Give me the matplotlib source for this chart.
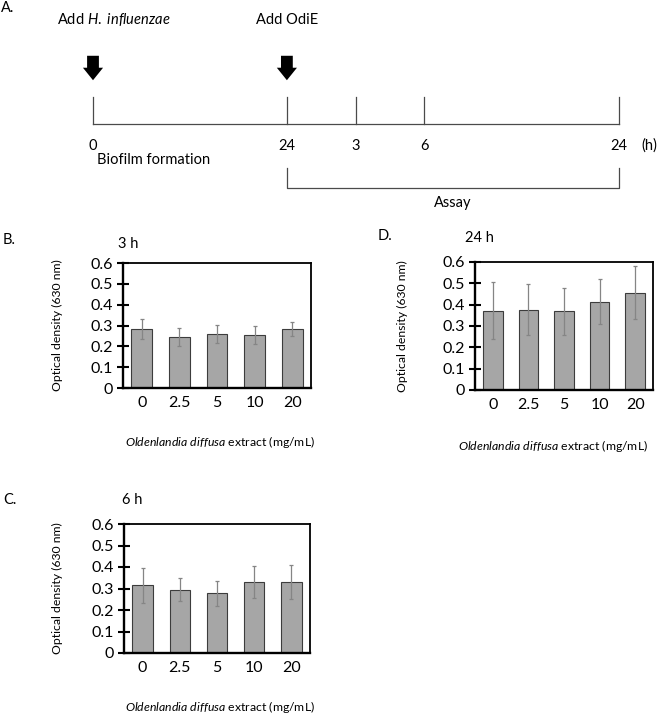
import matplotlib
matplotlib.use("Agg")
import matplotlib.pyplot as plt
from matplotlib.patches import FancyArrowPatch

plt.rcParams['font.family'] = ['Lato', 'DejaVu Sans']
plt.rcParams['mathtext.fontset'] = 'custom'
plt.rcParams['mathtext.rm'] = 'Lato'
plt.rcParams['mathtext.it'] = 'Lato:italic'

# ---------------- data ----------------
concentrations = ["0", "2.5", "5", "10", "20"]

od_3h = [0.285, 0.243, 0.261, 0.254, 0.283]
err_3h = [0.048, 0.043, 0.043, 0.044, 0.035]

od_6h = [0.314, 0.294, 0.277, 0.331, 0.331]
err_6h = [0.083, 0.053, 0.058, 0.073, 0.078]

od_24h = [0.372, 0.377, 0.369, 0.414, 0.456]
err_24h = [0.133, 0.119, 0.110, 0.104, 0.124]

yticks = [0, 0.1, 0.2, 0.3, 0.4, 0.5, 0.6]

# timeline schematic
timeline_labels = ["0", "24", "3", "6", "24"]
timeline_pos = [0, 2.81, 3.81, 4.80, 7.62]   # schematic (non-proportional) positions

W, H = 660, 715
fig = plt.figure(figsize=(W / 100, H / 100), dpi=100)

FS = 10.5      # general text
FS_AX = 8.8    # axis titles


def px(x, y):
    return x / W, 1 - y / H


def rect(l, r, t, b):
    return [l / W, 1 - b / H, (r - l) / W, (b - t) / H]


# ---------------- panel A: timeline ----------------
unit = 69.0
axA = fig.add_axes([0, 1 - 230 / H, 1, 230 / H])
axA.set_xlim(-93 / unit, (W - 93) / unit)
axA.set_ylim(230, 0)
axA.axis('off')

lc = '#4a4a4a'
axA.plot([timeline_pos[0], timeline_pos[-1]], [124, 124], color=lc, lw=0.9)
for p in timeline_pos:
    axA.plot([p, p], [97, 124], color=lc, lw=0.9)
for p, lab in zip(timeline_pos, timeline_labels):
    axA.text(p, 146, lab, ha='center', va='center', fontsize=FS)
axA.text(timeline_pos[-1] + 0.33, 146, "(h)", ha='left', va='center', fontsize=FS)

# assay bracket
axA.plot([timeline_pos[1], timeline_pos[1], timeline_pos[-1], timeline_pos[-1]],
         [168, 188, 188, 168], color=lc, lw=0.9)
axA.text((timeline_pos[1] + timeline_pos[-1]) / 2, 203, "Assay", ha='center', va='center', fontsize=FS)
axA.text(timeline_pos[0] + 0.06, 160, "Biofilm formation", ha='left', va='center', fontsize=FS)

# arrows
for p in (timeline_pos[0], timeline_pos[1]):
    arr = FancyArrowPatch((p, 53), (p, 83), arrowstyle="simple,head_length=9,head_width=14.5,tail_width=8.5",
                          mutation_scale=1, color='black', lw=0)
    axA.add_patch(arr)

axA.text(timeline_pos[0] - 36 / unit, 20, "Add $\\it{H.}$ $\\it{influenzae}$", ha='left', va='center', fontsize=FS)
axA.text(timeline_pos[1], 20, "Add OdiE", ha='center', va='center', fontsize=FS)
fig.text(*px(1, 8), "A.", ha='left', va='center', fontsize=FS)


# ---------------- bar panels ----------------
def bar_panel(r, values, errs):
    ax = fig.add_axes(r)
    x = list(range(len(concentrations)))
    ax.bar(x, values, width=0.55, color='#a6a6a6', edgecolor='#3c3c3c', linewidth=0.8, zorder=2)
    ax.errorbar(x, values, yerr=errs, fmt='none', ecolor='#858585', elinewidth=0.9,
                capsize=1.6, capthick=0.9, zorder=3)
    ax.set_xlim(-0.5, 4.5)
    ax.set_ylim(0, 0.6)
    ax.set_yticks(yticks)
    ax.set_yticklabels([f"{v:g}" for v in yticks])
    ax.set_xticks(x)
    ax.set_xticklabels(concentrations)
    ax.tick_params(axis='y', direction='inout', length=8, width=1.5, labelsize=11.5, pad=3)
    ax.tick_params(axis='x', length=0, labelsize=11.5, pad=6)
    for s in ('left', 'bottom'):
        ax.spines[s].set_linewidth(1.7)
    for s in ('top', 'right'):
        ax.spines[s].set_linewidth(1.3)
    for s in ax.spines.values():
        s.set_color('black')
    return ax


axB = bar_panel(rect(123, 311, 263, 388), od_3h, err_3h)
axC = bar_panel(rect(124, 310, 524, 653), od_6h, err_6h)
axD = bar_panel(rect(475, 653, 262, 390), od_24h, err_24h)

xlab = "$\\it{Oldenlandia}$ $\\it{diffusa}$ extract (mg/mL)"
ylab = "Optical density (630 nm)"

# B
fig.text(*px(3, 240), "B.", ha='left', va='center', fontsize=FS)
fig.text(*px(118, 244), "3 h", ha='left', va='center', fontsize=FS)
fig.text(*px(57, 325), ylab, ha='center', va='center', rotation=90, fontsize=FS_AX)
fig.text(*px(220, 442), xlab, ha='center', va='center', fontsize=FS_AX)

# C
fig.text(*px(3, 500), "C.", ha='left', va='center', fontsize=FS)
fig.text(*px(122, 500), "6 h", ha='left', va='center', fontsize=FS)
fig.text(*px(57, 588), ylab, ha='center', va='center', rotation=90, fontsize=FS_AX)
fig.text(*px(220, 707), xlab, ha='center', va='center', fontsize=FS_AX)

# D
fig.text(*px(378, 236), "D.", ha='left', va='center', fontsize=FS)
fig.text(*px(465, 238), "24 h", ha='left', va='center', fontsize=FS)
fig.text(*px(402, 326), ylab, ha='center', va='center', rotation=90, fontsize=FS_AX)
fig.text(*px(553, 446), xlab, ha='center', va='center', fontsize=FS_AX)

fig.savefig("out.png", dpi=100)
